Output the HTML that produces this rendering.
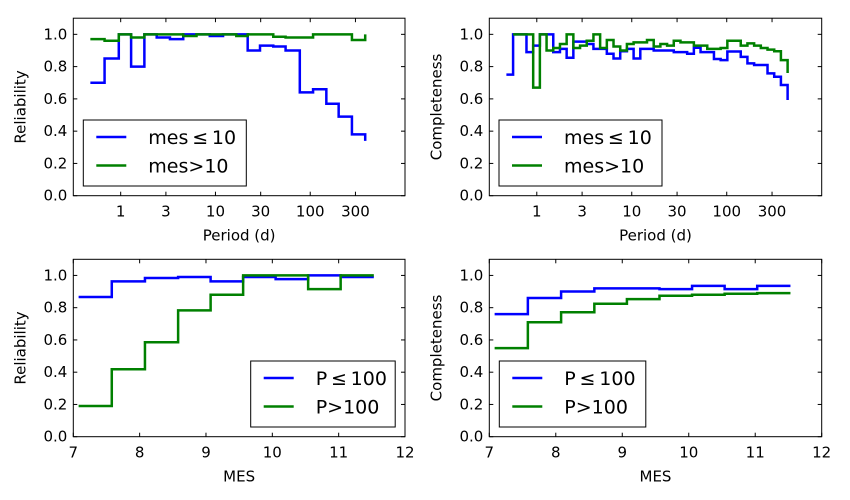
<!DOCTYPE html>
<html><head><meta charset="utf-8"><style>
html,body{margin:0;padding:0;background:#fff;}
svg{display:block;font-family:"DejaVu Sans","Liberation Sans",sans-serif;}
</style></head><body>
<svg id="fig" width="850" height="500" viewBox="0 0 850 500" xmlns="http://www.w3.org/2000/svg"></svg>
<script>
// ---- Data ----
// Top-left: reliability vs period (log10 bin edges)
const tlLogEdges = [-0.32,-0.17,-0.02,0.11,0.25,0.38,0.52,0.66,0.80,0.94,1.08,1.22,1.34,1.47,1.61,1.74,1.89,2.03,2.17,2.30,2.44,2.58];
const tlBlue  = [0.70,0.85,1.0,0.80,1.0,0.98,0.97,1.0,1.0,0.99,1.0,1.0,0.90,0.93,0.925,0.90,0.64,0.66,0.57,0.49,0.38];
const tlBlueEnd = 0.34;
const tlGreen = [0.97,0.96,1.0,0.98,1.0,1.0,1.0,0.99,1.0,1.0,1.0,0.99,1.0,1.0,0.985,0.98,0.98,1.0,1.0,1.0,0.965];
const tlGreenEnd = 1.0;
// Top-right: completeness vs period
const trLogStart = -0.32;
const trLogWidth = 0.0705;
const trBlue  = [0.75,1.0,1.0,0.89,0.93,1.0,1.0,0.89,0.91,0.855,0.955,0.955,0.94,0.91,0.91,0.88,0.85,0.895,0.91,0.85,0.91,0.91,0.90,0.90,0.90,0.89,0.89,0.88,0.917,0.89,0.89,0.847,0.84,0.894,0.894,0.86,0.82,0.81,0.81,0.758,0.737,0.686];
const trBlueEnd = 0.593;
const trGreen = [null,1.0,1.0,1.0,0.67,1.0,0.90,0.915,0.94,1.0,0.915,0.93,0.96,1.0,0.915,0.965,0.925,0.90,0.94,0.95,0.95,0.965,0.925,0.94,0.93,0.96,0.95,0.95,0.93,0.93,0.91,0.91,0.915,0.96,0.96,0.93,0.944,0.93,0.915,0.905,0.895,0.84];
const trGreenEnd = 0.76;
// Bottom: MES bins
const mesEdges = [7.08,7.58,8.08,8.58,9.07,9.56,10.05,10.54,11.03,11.53];
const blBlue  = [0.866,0.963,0.984,0.99,0.963,0.99,0.977,1.0,0.99];
const blGreen = [0.19,0.418,0.586,0.783,0.88,1.0,1.0,0.915,1.0];
const brBlue  = [0.76,0.86,0.90,0.92,0.92,0.915,0.935,0.915,0.935];
const brGreen = [0.549,0.71,0.772,0.824,0.853,0.874,0.88,0.886,0.89];
const logTickVals = [1,3,10,30,100,300];
const mesTickVals = [7,8,9,10,11,12];
const yTickVals = [0,0.2,0.4,0.6,0.8,1.0];

const NS="http://www.w3.org/2000/svg";
const svg=document.getElementById('fig');
function mk(tag,attrs,parent){const e=document.createElementNS(NS,tag);for(const k in attrs)e.setAttribute(k,attrs[k]);(parent||svg).appendChild(e);return e;}

function panel(p){
  const g=mk('g',{});
  
  
  const X=v=>p.x0+(v-p.xmin)/(p.xmax-p.xmin)*(p.x1-p.x0);
  const Y=v=>p.y1-(v/1.1)*(p.y1-p.y0);
  p.series.forEach(s=>{
    let d='';let pen=false;
    for(let i=0;i<s.vals.length;i++){
      const v=s.vals[i];
      if(v===null){pen=false;continue;}
      const xa=X(s.edges[i]),xb=X(s.edges[i+1]),y=Y(v);
      d+=(pen?'L':'M')+xa.toFixed(2)+','+y.toFixed(2)+'L'+xb.toFixed(2)+','+y.toFixed(2);
      pen=true;
    }
    if(s.end!==undefined) d+='L'+X(s.edges[s.edges.length-1]).toFixed(2)+','+Y(s.end).toFixed(2);
    const path=mk('path',{d:d,fill:'none',stroke:s.color,'stroke-width':2.5,'stroke-linejoin':'miter'},g);
    
    
  });
  const fr=mk('rect',{x:p.x0,y:p.y0,width:p.x1-p.x0,height:p.y1-p.y0,fill:'none',stroke:'#000','stroke-width':1},g);
  
  
  yTickVals.forEach(v=>{
    const y=Y(v);
    mk('line',{x1:p.x0,y1:y,x2:p.x0+4,y2:y,stroke:'#000'},g);
    mk('line',{x1:p.x1,y1:y,x2:p.x1-4,y2:y,stroke:'#000'},g);
    const t=mk('text',{x:p.x0-6,y:y+5,'text-anchor':'end','font-size':15},g);
    t.textContent=v.toFixed(1);
    
    
  });
  p.xticks.forEach(v=>{
    const x=X(p.xf(v));
    mk('line',{x1:x,y1:p.y1,x2:x,y2:p.y1-4,stroke:'#000'},g);
    mk('line',{x1:x,y1:p.y0,x2:x,y2:p.y0+4,stroke:'#000'},g);
    const t=mk('text',{x:x,y:p.y1+21,'text-anchor':'middle','font-size':15},g);
    t.textContent=String(v);
    
    
  });
  const xl=mk('text',{x:(p.x0+p.x1)/2,y:p.y1+45,'text-anchor':'middle','font-size':15},g);
  xl.textContent=p.xlabel;
  
  
  const yx=p.x0-48, yy=(p.y0+p.y1)/2;
  const yl=mk('text',{x:yx,y:yy,'text-anchor':'middle','font-size':15,transform:`rotate(-90 ${yx} ${yy})`},g);
  yl.textContent=p.ylabel;
  
  
  const L=p.leg;
  const lg=mk('g',{},g);
  
  
  mk('rect',{x:L.x,y:L.y,width:L.w,height:66,fill:'#fff',stroke:'#000','stroke-width':1},lg);
  p.series.forEach((s,i)=>{
    const ly=L.y+17+i*28.5;
    const ln=mk('line',{x1:L.x+13,y1:ly,x2:L.x+43,y2:ly,stroke:s.color,'stroke-width':2.5},lg);
    
    
    const t=mk('text',{x:L.x+L.tx,y:ly+7,'font-size':19},lg);
    t.textContent=s.label;
    
    
  });
}

const trEdges=[];for(let i=0;i<=trBlue.length;i++)trEdges.push(trLogStart+i*trLogWidth);
const lg10=v=>Math.log10(v);
const idn=v=>v;

panel({name:'reliability-period-panel',x0:73.3,x1:405,y0:18.2,y1:195.7,xmin:-0.5,xmax:3.0,xf:lg10,xticks:logTickVals,
  xlabel:'Period (d)',ylabel:'Reliability',leg:{x:83.3,y:120,w:163,tx:65},
  series:[{name:'mes-le-10-line',color:'#0000ff',edges:tlLogEdges,vals:tlBlue,end:tlBlueEnd,label:'mes\u2009\u2264\u200910'},
          {name:'mes-gt-10-line',color:'#008000',edges:tlLogEdges,vals:tlGreen,end:tlGreenEnd,label:'mes>10'}]});
panel({name:'completeness-period-panel',x0:489.3,x1:821.7,y0:18.2,y1:195.7,xmin:-0.5,xmax:3.0,xf:lg10,xticks:logTickVals,
  xlabel:'Period (d)',ylabel:'Completeness',leg:{x:499,y:120,w:163,tx:65},
  series:[{name:'mes-le-10-line',color:'#0000ff',edges:trEdges,vals:trBlue,end:trBlueEnd,label:'mes\u2009\u2264\u200910'},
          {name:'mes-gt-10-line',color:'#008000',edges:trEdges,vals:trGreen,end:trGreenEnd,label:'mes>10'}]});
panel({name:'reliability-mes-panel',x0:73.3,x1:405,y0:259.3,y1:436.7,xmin:7,xmax:12,xf:idn,xticks:mesTickVals,
  xlabel:'MES',ylabel:'Reliability',leg:{x:250.7,y:361,w:144.5,tx:65},
  series:[{name:'p-le-100-line',color:'#0000ff',edges:mesEdges,vals:blBlue,label:'P\u2009\u2264\u2009100'},
          {name:'p-gt-100-line',color:'#008000',edges:mesEdges,vals:blGreen,label:'P>100'}]});
panel({name:'completeness-mes-panel',x0:489.3,x1:821.7,y0:259.3,y1:436.7,xmin:7,xmax:12,xf:idn,xticks:mesTickVals,
  xlabel:'MES',ylabel:'Completeness',leg:{x:499.3,y:361,w:146.5,tx:65},
  series:[{name:'p-le-100-line',color:'#0000ff',edges:mesEdges,vals:brBlue,label:'P\u2009\u2264\u2009100'},
          {name:'p-gt-100-line',color:'#008000',edges:mesEdges,vals:brGreen,label:'P>100'}]});
</script>
</body></html>
